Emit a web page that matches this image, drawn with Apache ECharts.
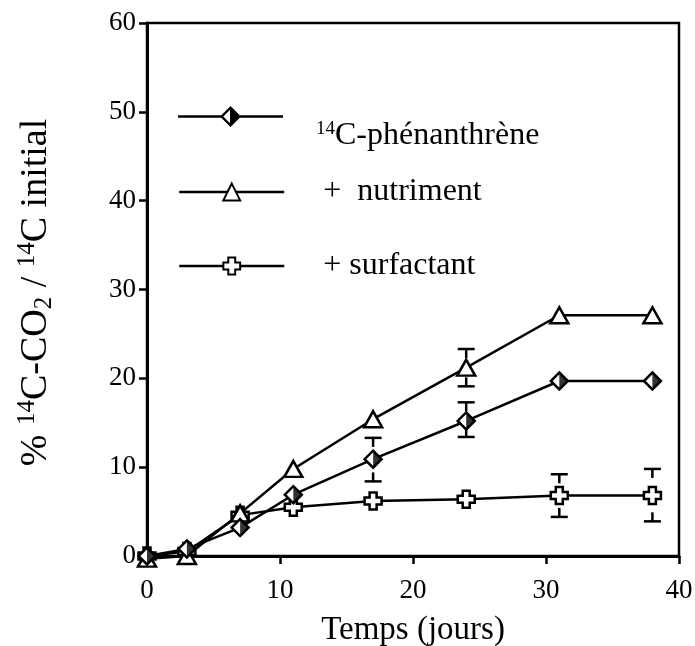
<!DOCTYPE html>
<html>
<head>
<meta charset="utf-8">
<script src="https://cdn.jsdelivr.net/npm/echarts@6/dist/echarts.min.js"></script>
<style>
html,body{margin:0;padding:0;background:#fff;}
#c{width:695px;height:646px;}
</style>
</head>
<body>
<div id="c"></div>
<script>
// ---- data ----
var days = [0, 3, 7, 11, 17, 24, 31, 38];
var phenanthrene = [0, 0.8, 3.2, 6.9, 10.9, 15.2, 19.7, 19.7];
var nutriment = [-0.3, 0, 4.8, 9.8, 15.4, 21.2, 27.1, 27.1];
var surfactant = [0, 0.5, 4.6, 5.5, 6.2, 6.4, 6.8, 6.8];
// error bars: [day, low, high]
var phenErr = [[17, 8.4, 13.3], [24, 13.4, 17.3]];
var nutrErr = [[24, 19.1, 23.3]];
var surfErr = [[31, 4.4, 9.2], [38, 3.9, 9.8]];
var xTicks = [0, 10, 20, 30, 40];
var yTicks = [0, 10, 20, 30, 40, 50, 60];
var NAME_P = '14C-phénanthrène';
var NAME_N = '+  nutriment';
var NAME_S = '+ surfactant';

var FONT = '"Liberation Serif", "Times New Roman", serif';
function pts(arr) { return days.map(function (d, i) { return [d, arr[i]]; }); }

var crossPath = 'path://M5 0 H12 V5 H17 V12 H12 V17 H5 V12 H0 V5 H5 Z';
var halfPath = 'path://M0 0 L8.5 8.5 L0 17 Z';
var legendPhenIcon = 'path://M0 9.25 H43 V11.75 H0 Z M62 9.25 H105 V11.75 H62 Z ' +
  'M52.5 0 L63 10.5 L52.5 21 L42 10.5 Z M52 3.8 L45.3 10.5 L52 17.2 Z';

function errRender(params, api) {
  var x = api.value(0), lo = api.value(1), hi = api.value(2);
  var pH = api.coord([x, hi]), pL = api.coord([x, lo]);
  var hw = 8.5, stem = 9;
  var st = { stroke: '#000', lineWidth: 2.5 };
  return {
    type: 'group',
    children: [
      { type: 'line', shape: { x1: pH[0] - hw, y1: pH[1], x2: pH[0] + hw, y2: pH[1] }, style: st },
      { type: 'line', shape: { x1: pH[0], y1: pH[1], x2: pH[0], y2: pH[1] + stem }, style: st },
      { type: 'line', shape: { x1: pL[0] - hw, y1: pL[1], x2: pL[0] + hw, y2: pL[1] }, style: st },
      { type: 'line', shape: { x1: pL[0], y1: pL[1], x2: pL[0], y2: pL[1] - stem }, style: st }
    ]
  };
}

var lineBase = {
  type: 'line', color: '#000', showSymbol: true, showAllSymbol: true, clip: false,
  lineStyle: { color: '#000', width: 2.5 },
  itemStyle: { color: '#fff', borderColor: '#000', borderWidth: 2.5 },
  emphasis: { disabled: true }, z: 2
};
function mk(o) { var r = {}; for (var k in lineBase) r[k] = lineBase[k]; for (var k2 in o) r[k2] = o[k2]; return r; }

var richMain = {
  s: { fontFamily: FONT, fontSize: 19, lineHeight: 19, verticalAlign: 'top', color: '#000' },
  t: { fontFamily: FONT, fontSize: 32, lineHeight: 32, color: '#000' }
};

function legendFor(name, top, data, pad, fmt) {
  return {
    show: true, orient: 'vertical', left: 178, top: top, padding: 0,
    itemWidth: 105, itemHeight: 21, selectedMode: false,
    data: data,
    formatter: fmt,
    lineStyle: { width: 2.5 },
    textStyle: { fontFamily: FONT, fontSize: 32, color: '#000', padding: pad, rich: richMain }
  };
}

var chart = echarts.init(document.getElementById('c'), null, { renderer: 'canvas' });
chart.setOption({
  animation: false,
  backgroundColor: '#fff',
  grid: { left: 147, right: 16, top: 23, bottom: 90, containLabel: false, outerBoundsMode: 'none',
          show: true, borderColor: '#000', borderWidth: 2.5, backgroundColor: 'transparent' },
  xAxis: {
    type: 'value', min: xTicks[0], max: xTicks[xTicks.length - 1], interval: 10,
    name: 'Temps (jours)', nameLocation: 'middle', nameGap: 58,
    nameTextStyle: { fontFamily: FONT, fontSize: 33, color: '#000' },
    axisLine: { show: true, onZero: false, lineStyle: { color: '#000', width: 3 } },
    axisTick: { show: true, inside: false, length: 8, lineStyle: { color: '#000', width: 2.5 } },
    axisLabel: { show: true, margin: 21, fontFamily: FONT, fontSize: 27, color: '#000' },
    splitLine: { show: false }
  },
  yAxis: {
    type: 'value', min: yTicks[0], max: yTicks[yTicks.length - 1], interval: 10,
    name: '{t|% }{s|14}{t|C-CO}{b|2}{t| / }{s|14}{t|C initial}',
    nameLocation: 'middle', nameGap: 90, nameRotate: 90,
    nameTextStyle: {
      fontFamily: FONT, fontSize: 38, color: '#000', padding: [0, 6, 0, 0],
      rich: {
        t: { fontFamily: FONT, fontSize: 38, lineHeight: 42, color: '#000' },
        s: { fontFamily: FONT, fontSize: 25, lineHeight: 25, verticalAlign: 'top', color: '#000' },
        b: { fontFamily: FONT, fontSize: 25, lineHeight: 25, verticalAlign: 'bottom', color: '#000' }
      }
    },
    axisLine: { show: true, onZero: false, lineStyle: { color: '#000', width: 3 } },
    axisTick: { show: true, inside: false, length: 8, lineStyle: { color: '#000', width: 2.5 } },
    axisLabel: { show: true, margin: 11, fontFamily: FONT, fontSize: 27, color: '#000' },
    splitLine: { show: false }
  },
  legend: [
    legendFor(NAME_P, 106,
      [{ name: NAME_P, icon: legendPhenIcon, itemStyle: { color: '#000', borderWidth: 0 } }],
      [39, 0, 0, 28], function () { return '{s|14}{t|C-phénanthrène}'; }),
    legendFor(NAME_N, 176, [NAME_N], [0, 0, 0, 34], function (n) { return '{t|' + n + '}'; }),
    legendFor(NAME_S, 250, [NAME_S], [0, 0, 0, 34], function (n) { return '{t|' + n + '}'; })
  ],
  series: [
    mk({ name: NAME_S, data: pts(surfactant), symbol: crossPath, symbolSize: 17 }),
    mk({ name: NAME_N, data: pts(nutriment), symbol: 'triangle', symbolSize: [18, 16] }),
    mk({ name: NAME_P, data: pts(phenanthrene), symbol: 'diamond', symbolSize: 17 }),
    { type: 'scatter', name: 'phen-half', data: pts(phenanthrene), symbol: halfPath,
      symbolSize: [8.5, 17], symbolOffset: [4.25, 0], itemStyle: { color: '#000' },
      clip: false, silent: true, z: 3 },
    { type: 'custom', name: 'err-p', data: phenErr, renderItem: errRender, z: 4, silent: true, clip: false },
    { type: 'custom', name: 'err-n', data: nutrErr, renderItem: errRender, z: 4, silent: true, clip: false },
    { type: 'custom', name: 'err-s', data: surfErr, renderItem: errRender, z: 4, silent: true, clip: false }
  ]
});
</script>
</body>
</html>
